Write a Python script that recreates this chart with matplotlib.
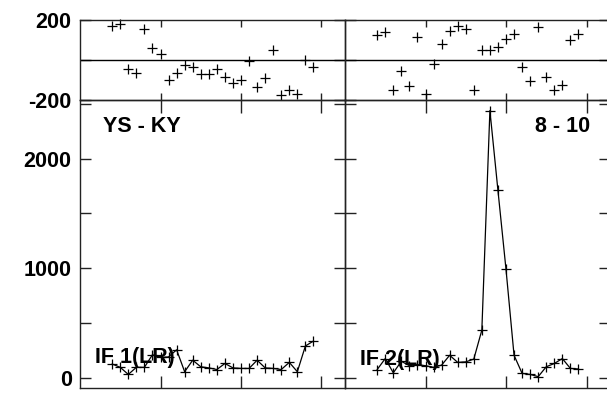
import matplotlib
matplotlib.use("Agg")
import matplotlib.pyplot as plt

plt.rcParams['font.family'] = ['Liberation Sans', 'DejaVu Sans']

# time axis (arbitrary units, tick every 1.0)
times = [0.4, 0.5, 0.6, 0.7, 0.8, 0.9, 1.0, 1.1, 1.2, 1.3, 1.4, 1.5, 1.6,
         1.7, 1.8, 1.9, 2.0, 2.1, 2.2, 2.3, 2.4, 2.5, 2.6, 2.7, 2.8, 2.9]

# IF 1 (LR)
phase_if1 = [170, 180, -47, -63, 153, 58, 28, -100, -63, -25, -33, -70, -70,
             -47, -83, -113, -100, -5, -133, -92, 50, -175, -150, -172, 0, -33]
amp_if1 = [125, 95, 30, 95, 95, 210, 185, 190, 255, 55, 160, 100, 90,
           75, 130, 90, 85, 85, 160, 90, 85, 75, 140, 55, 290, 335]

# IF 2 (LR)
phase_if2 = [125, 138, -150, -55, -130, 113, -170, -22, 78, 147, 170, 155, -150,
             50, 50, 67, 103, 128, -37, -105, 167, -83, -150, -125, 100, 130]
amp_if2 = [75, 175, 45, 150, 110, 120, 110, 95, 115, 205, 140, 145, 170,
           435, 2440, 1710, 990, 205, 40, 30, 10, 100, 130, 175, 85, 80]

baseline_label = "YS - KY"
time_label = "8 - 10"
if_labels = ["IF 1(LR)", "IF 2(LR)"]

phase_ticks = [-200, 0, 200]
phase_ticklabels = ["-200", "", "200"]
amp_ticks = [0, 500, 1000, 1500, 2000, 2500]
amp_ticklabels = ["0", "", "1000", "", "2000", ""]
time_ticks = [1, 2, 3]

W, H = 607, 393
fig = plt.figure(figsize=(W / 100, H / 100), dpi=100)

def fx(px):
    return px / W

def fy(py):
    return 1 - py / H

panel_w = 265
lefts = [80, 345]
ph_top, ph_bot = 20, 100
am_top, am_bot = 100, 387.7

FS = 15.5
spine_col = '#222222'

for i in range(2):
    L = lefts[i]
    axp = fig.add_axes([fx(L), fy(ph_bot), panel_w / W, (ph_bot - ph_top) / H])
    axa = fig.add_axes([fx(L), fy(am_bot), panel_w / W, (am_bot - am_top) / H])
    phase = [phase_if1, phase_if2][i]
    amp = [amp_if1, amp_if2][i]

    axp.plot(times, phase, linestyle='none', marker='+', ms=7, mew=0.9,
             color='black', clip_on=False)
    axp.axhline(0, color='black', lw=1.0)
    axp.set_ylim(-200, 200)
    axp.set_xlim(0, panel_w / 80.5)

    axa.plot(times, amp, color='black', lw=0.9, marker='+', ms=7, mew=0.9,
             clip_on=False)
    axa.set_ylim(-91, 2536)
    axa.set_xlim(0, panel_w / 80.5)

    for ax in (axp, axa):
        for s in ax.spines.values():
            s.set_color(spine_col)
            s.set_linewidth(1.0)
        ax.set_xticks(time_ticks)
        ax.set_xticklabels([])
        ax.patch.set_alpha(0)

    axp.set_yticks(phase_ticks)
    axa.set_yticks(amp_ticks)
    if i == 0:
        axp.set_yticklabels(phase_ticklabels, fontsize=FS, fontweight='bold')
        axa.set_yticklabels(amp_ticklabels, fontsize=FS, fontweight='bold')
    else:
        axp.set_yticklabels([])
        axa.set_yticklabels([])

    axp.tick_params(axis='x', direction='in', top=True, bottom=True,
                    length=5, width=1.0, color=spine_col)
    axp.tick_params(axis='y', direction='in', left=True, right=True,
                    length=8, width=1.0, color=spine_col, pad=6)
    axa.tick_params(axis='x', direction='in', top=True, bottom=True,
                    length=9, width=1.0, color=spine_col)
    axa.tick_params(axis='y', direction='in', left=True, right=True,
                    length=8, width=1.0, color=spine_col, pad=6)

    fig.text(fx([95, 360.5][i]), fy([357, 359][i]), if_labels[i],
             fontsize=FS, fontweight='bold', ha='left', va='center')

fig.text(fx(103), fy(126), baseline_label, fontsize=FS, fontweight='bold',
         ha='left', va='center')
fig.text(fx(590), fy(126), time_label, fontsize=FS, fontweight='bold',
         ha='right', va='center')

fig.savefig('out.png', dpi=100)
